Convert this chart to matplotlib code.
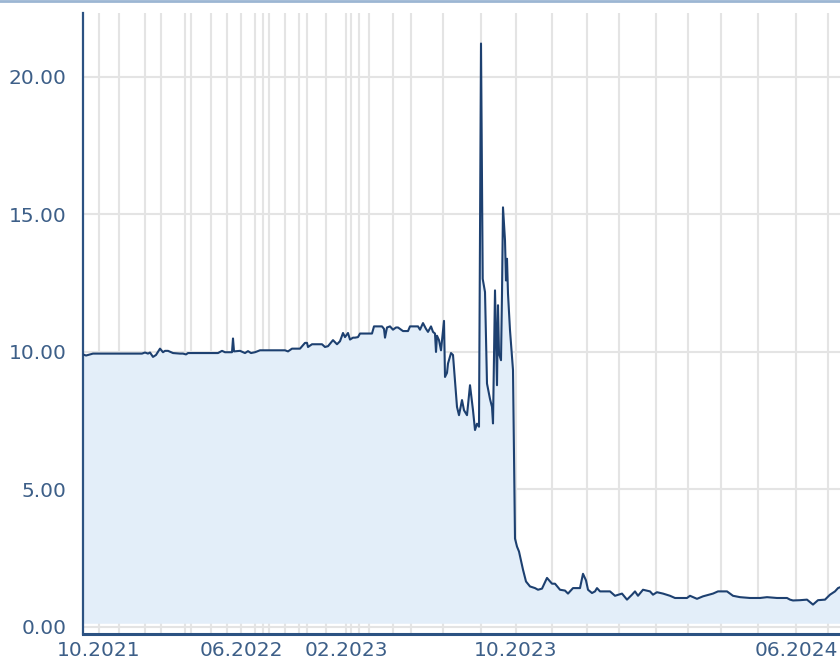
import numpy as np
import matplotlib
matplotlib.use("Agg")
import matplotlib.pyplot as plt
from matplotlib.lines import Line2D

# observation index (position of the trading day on the axis) and price,
# split in three periods

# plateau 09.2021 - 08.2023
obs_a = [0, 3, 10, 59, 62, 65, 67, 70, 73, 77,
         80, 82, 85, 88, 90, 97, 100, 103, 105, 135,
         139, 142, 149, 150, 151, 157, 162, 165, 168, 172,
         177, 202, 205, 209, 217, 222, 224, 225, 229, 239,
         242, 245, 250, 254, 257, 260, 262, 265, 267, 270,
         272, 275, 277, 289, 291, 299, 301, 302, 304, 307,
         310, 313, 315, 320, 325, 327, 335, 337, 340, 343,
         345, 348, 350, 352, 353, 354, 356, 358, 361]
price_a = [9.90, 9.86, 9.93, 9.93, 9.97, 9.93, 9.97, 9.81, 9.88, 10.11,
           9.98, 10.03, 10.03, 9.98, 9.95, 9.93, 9.93, 9.90, 9.95, 9.95,
           10.03, 9.98, 9.98, 10.48, 10.01, 10.03, 9.95, 10.02, 9.95, 9.98,
           10.05, 10.05, 10.01, 10.11, 10.11, 10.32, 10.32, 10.17, 10.27, 10.27,
           10.17, 10.20, 10.42, 10.27, 10.38, 10.68, 10.53, 10.68, 10.44, 10.51,
           10.51, 10.53, 10.66, 10.66, 10.92, 10.92, 10.83, 10.51, 10.88, 10.92,
           10.80, 10.88, 10.88, 10.75, 10.75, 10.92, 10.92, 10.80, 11.04, 10.83,
           10.72, 10.92, 10.72, 10.66, 9.99, 10.58, 10.42, 10.05, 11.12]

# turbulence 08.2023 - 10.2023
obs_b = [362, 364, 365, 368, 370, 372, 374, 376, 379, 381,
         384, 387, 390, 392, 394, 396, 398, 399.7, 402, 404,
         407, 409, 410, 412, 414, 415, 416, 418, 419, 420,
         422, 423, 424, 425, 427, 430, 432]
price_b = [9.08, 9.23, 9.57, 9.95, 9.88, 8.96, 7.99, 7.69, 8.24, 7.87,
           7.69, 8.78, 7.87, 7.15, 7.38, 7.27, 21.21, 12.65, 12.17, 8.84,
           8.28, 7.99, 7.39, 12.23, 8.78, 11.69, 9.93, 9.69, 12.11, 15.25,
           14.05, 12.59, 13.38, 12.11, 10.78, 9.33, 3.20]

# after the collapse
obs_c = [434, 436, 440, 443, 447, 452, 455, 459, 464, 469,
         472, 477, 482, 485, 490, 497, 500, 503, 505, 509,
         512, 514, 517, 527, 532, 539, 544, 549, 552, 555,
         560, 567, 570, 574, 580, 587, 592, 604, 607, 614,
         620, 630, 635, 644, 650, 657, 667, 677, 684, 694,
         704, 707, 710, 717, 724, 730, 735, 742, 747, 752,
         755, 757]
price_c = [2.91, 2.73, 2.07, 1.64, 1.46, 1.40, 1.34, 1.38, 1.77, 1.56,
           1.56, 1.34, 1.31, 1.20, 1.40, 1.40, 1.92, 1.68, 1.34, 1.22,
           1.28, 1.40, 1.28, 1.28, 1.12, 1.20, 0.98, 1.16, 1.28, 1.12,
           1.34, 1.28, 1.16, 1.25, 1.20, 1.12, 1.04, 1.04, 1.12, 1.01,
           1.10, 1.20, 1.28, 1.28, 1.12, 1.07, 1.04, 1.04, 1.07, 1.04,
           1.04, 0.98, 0.95, 0.96, 0.98, 0.80, 0.96, 0.98, 1.16, 1.28,
           1.40, 1.43]

# first observation of each month (grid lines) and the labelled ones
month_idx = [16, 36, 62, 78, 102, 108, 128, 144, 158, 172, 180, 186, 202, 216, 224,
             243, 263, 268, 276, 286, 310, 328, 360, 398, 433, 469, 504, 536, 573, 605,
             638, 675, 713, 745]
month_lbl = ["10.2021", "11.2021", "12.2021", "01.2022", "02.2022", "03.2022",
             "04.2022", "05.2022", "06.2022", "07.2022", "08.2022", "09.2022",
             "10.2022", "11.2022", "12.2022", "01.2023", "02.2023", "03.2023",
             "04.2023", "05.2023", "06.2023", "07.2023", "08.2023", "09.2023",
             "10.2023", "11.2023", "12.2023", "01.2024", "02.2024", "03.2024",
             "04.2024", "05.2024", "06.2024", "07.2024"]
shown = ["10.2021", "06.2022", "02.2023", "10.2023", "06.2024"]
y_ticks = [0, 5, 10, 15, 20]

obs = obs_a + obs_b + obs_c
price = price_a + price_b + price_c

line_c = "#1d4070"
text_c = "#3d5f88"

fig = plt.figure(figsize=(8.4, 6.62), dpi=100)
ax = fig.add_axes([83 / 840, 1 - 634 / 662, 757 / 840, 621 / 662])

ax.fill_between(obs, price, 0.12, color="#e3eef9", lw=0, zorder=1)
ax.plot(obs, price, color=line_c, lw=1.5, zorder=3)

ax.set_xlim(0, 757)
ax.set_ylim(-0.27, 22.32)

ax.set_xticks(month_idx)
ax.set_xticklabels([m if m in shown else "" for m in month_lbl])
ax.set_yticks(y_ticks)
ax.set_yticklabels(["%.2f" % v for v in y_ticks])

ax.grid(True, color="#e4e4e4", lw=1.5, zorder=0)
ax.set_axisbelow(True)
ax.tick_params(axis="both", length=0, labelsize=14.5, labelcolor=text_c)
ax.tick_params(axis="x", pad=5)
ax.tick_params(axis="y", pad=12)

for s in ["top", "right"]:
    ax.spines[s].set_visible(False)
ax.spines["left"].set_color("#2c5282")
ax.spines["left"].set_linewidth(1.6)
ax.spines["bottom"].set_color("#2c5282")
ax.spines["bottom"].set_linewidth(2.2)

fig.add_artist(Line2D([0, 1], [0.998, 0.998], color="#9cb6d3", lw=2,
                      transform=fig.transFigure))

fig.savefig("out.png", dpi=100)
